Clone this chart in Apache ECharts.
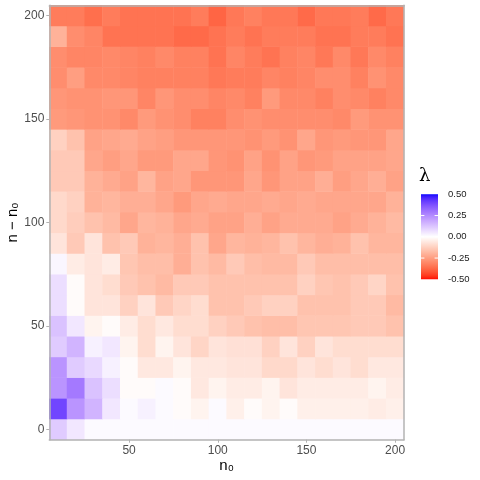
<!DOCTYPE html>
<html><head><meta charset="utf-8">
<script src="https://cdn.jsdelivr.net/npm/echarts@6/dist/echarts.min.js"></script>
<style>html,body{margin:0;padding:0;background:#fff}#c{width:480px;height:480px}</style>
</head><body><div id="c"></div>
<script>
// ---- data ----
const xCategories = [10,20,30,40,50,60,70,80,90,100,110,120,130,140,150,160,170,180,190,200];
const yCategories = [0,10,20,30,40,50,60,70,80,90,100,110,120,130,140,150,160,170,180,190,200];
const xTickLabels = [50,100,150,200];
const yTickLabels = [0,50,100,150,200];
const legendValues = [0.5,0.25,0,-0.25,-0.5];
const legendLabels = ['0.50','0.25','0.00','-0.25','-0.50'];

// lambda values, one array per row (n - n0), columns follow xCategories
const row0   = [0.11,0.05,0.01,0.01,0.01,0.01,0.01,0.01,0.01,0.01,0.01,0.01,0.01,0.01,0.01,0.01,0.01,0.01,0.01,0.01];
const row10  = [0.40,0.23,0.16,0.05,0.01,0.03,0.01,-0.01,-0.03,0.01,-0.04,-0.01,-0.03,-0.01,-0.04,-0.04,-0.04,-0.04,-0.05,-0.04];
const row20  = [0.23,0.29,0.13,0.07,-0.01,-0.01,0.01,-0.01,-0.06,-0.03,-0.05,-0.05,-0.03,-0.07,-0.05,-0.05,-0.05,-0.05,-0.03,-0.05];
const row30  = [0.23,0.11,0.08,0.03,-0.01,-0.06,-0.06,-0.03,-0.06,-0.06,-0.07,-0.07,-0.10,-0.10,-0.07,-0.09,-0.07,-0.09,-0.06,-0.06];
const row40  = [0.11,0.16,0.03,0.05,-0.03,-0.09,-0.03,-0.07,-0.11,-0.07,-0.08,-0.08,-0.12,-0.07,-0.12,-0.07,-0.09,-0.09,-0.09,-0.09];
const row50  = [0.13,0.05,-0.03,-0.01,-0.05,-0.09,-0.06,-0.09,-0.09,-0.12,-0.14,-0.16,-0.17,-0.17,-0.15,-0.15,-0.15,-0.14,-0.14,-0.16];
const row60  = [0.07,-0.01,-0.07,-0.07,-0.12,-0.07,-0.14,-0.11,-0.09,-0.16,-0.16,-0.14,-0.12,-0.12,-0.16,-0.16,-0.16,-0.14,-0.14,-0.18];
const row70  = [0.07,-0.01,-0.07,-0.09,-0.14,-0.16,-0.18,-0.14,-0.14,-0.16,-0.16,-0.16,-0.16,-0.16,-0.12,-0.15,-0.16,-0.14,-0.11,-0.16];
const row80  = [0.02,-0.05,-0.07,-0.05,-0.15,-0.17,-0.17,-0.21,-0.16,-0.18,-0.14,-0.17,-0.18,-0.18,-0.14,-0.17,-0.17,-0.17,-0.17,-0.17];
const row90  = [-0.07,-0.14,-0.07,-0.16,-0.14,-0.20,-0.19,-0.21,-0.16,-0.23,-0.19,-0.20,-0.19,-0.16,-0.19,-0.21,-0.20,-0.16,-0.19,-0.19];
const row100 = [-0.10,-0.13,-0.16,-0.18,-0.23,-0.19,-0.20,-0.23,-0.22,-0.24,-0.24,-0.21,-0.24,-0.22,-0.22,-0.22,-0.24,-0.22,-0.20,-0.18];
const row110 = [-0.10,-0.12,-0.20,-0.19,-0.21,-0.21,-0.23,-0.26,-0.23,-0.22,-0.23,-0.23,-0.22,-0.23,-0.22,-0.23,-0.23,-0.23,-0.23,-0.20];
const row120 = [-0.14,-0.14,-0.20,-0.22,-0.24,-0.19,-0.24,-0.23,-0.27,-0.27,-0.27,-0.23,-0.27,-0.24,-0.24,-0.21,-0.25,-0.23,-0.21,-0.24];
const row130 = [-0.14,-0.14,-0.23,-0.25,-0.23,-0.26,-0.26,-0.23,-0.23,-0.27,-0.28,-0.24,-0.28,-0.24,-0.27,-0.26,-0.24,-0.24,-0.24,-0.23];
const row140 = [-0.12,-0.16,-0.24,-0.23,-0.22,-0.24,-0.25,-0.27,-0.27,-0.27,-0.27,-0.28,-0.26,-0.28,-0.23,-0.27,-0.26,-0.27,-0.27,-0.23];
const row150 = [-0.26,-0.27,-0.28,-0.28,-0.30,-0.26,-0.28,-0.29,-0.32,-0.32,-0.29,-0.28,-0.29,-0.29,-0.29,-0.29,-0.30,-0.26,-0.28,-0.28];
const row160 = [-0.27,-0.28,-0.28,-0.27,-0.27,-0.31,-0.27,-0.29,-0.29,-0.31,-0.30,-0.32,-0.26,-0.30,-0.30,-0.32,-0.29,-0.30,-0.32,-0.30];
const row170 = [-0.29,-0.25,-0.30,-0.30,-0.31,-0.32,-0.32,-0.32,-0.32,-0.34,-0.33,-0.33,-0.31,-0.32,-0.31,-0.29,-0.29,-0.32,-0.28,-0.30];
const row180 = [-0.29,-0.31,-0.31,-0.30,-0.31,-0.32,-0.30,-0.32,-0.32,-0.35,-0.31,-0.33,-0.35,-0.32,-0.31,-0.34,-0.30,-0.34,-0.30,-0.32];
const row190 = [-0.20,-0.29,-0.31,-0.35,-0.35,-0.35,-0.35,-0.37,-0.37,-0.35,-0.33,-0.35,-0.33,-0.33,-0.33,-0.35,-0.35,-0.33,-0.33,-0.35];
const row200 = [-0.33,-0.33,-0.36,-0.33,-0.35,-0.35,-0.35,-0.35,-0.33,-0.38,-0.34,-0.32,-0.34,-0.34,-0.37,-0.34,-0.34,-0.33,-0.37,-0.34];

const rows = [row0,row10,row20,row30,row40,row50,row60,row70,row80,row90,row100,
              row110,row120,row130,row140,row150,row160,row170,row180,row190,row200];

// ---- colour scale: red - white - blue interpolated in CIELAB ----
function toLin(c){c/=255;return c<=0.04045?c/12.92:Math.pow((c+0.055)/1.055,2.4);}
function toSrgb(c){c=c<=0.0031308?12.92*c:1.055*Math.pow(c,1/2.4)-0.055;return Math.round(Math.max(0,Math.min(1,c))*255);}
function rgb2lab(rgb){
  const R=toLin(rgb[0]),G=toLin(rgb[1]),B=toLin(rgb[2]);
  const X=(0.4124564*R+0.3575761*G+0.1804375*B)/0.95047;
  const Y=(0.2126729*R+0.7151522*G+0.0721750*B);
  const Z=(0.0193339*R+0.1191920*G+0.9503041*B)/1.08883;
  const f=t=>t>0.008856?Math.cbrt(t):7.787*t+16/116;
  const fx=f(X),fy=f(Y),fz=f(Z);
  return [116*fy-16,500*(fx-fy),200*(fy-fz)];
}
function lab2hex(lab){
  const fy=(lab[0]+16)/116,fx=fy+lab[1]/500,fz=fy-lab[2]/200;
  const fi=t=>t*t*t>0.008856?t*t*t:(t-16/116)/7.787;
  const X=fi(fx)*0.95047,Y=fi(fy),Z=fi(fz)*1.08883;
  const R=3.2404542*X-1.5371385*Y-0.4985314*Z;
  const G=-0.9692660*X+1.8760108*Y+0.0415560*Z;
  const B=0.0556434*X-0.2040259*Y+1.0572252*Z;
  const h=v=>('0'+toSrgb(v).toString(16)).slice(-2);
  return '#'+h(R)+h(G)+h(B);
}
const labLow=rgb2lab([255,0,0]),labMid=rgb2lab([255,255,255]),labHigh=rgb2lab([0,0,255]);
function colorAt(v){ // v in [-0.5,0.5]
  let a,b,t;
  if(v<0){a=labMid;b=labLow;t=-v/0.5;}else{a=labMid;b=labHigh;t=v/0.5;}
  return lab2hex([a[0]+(b[0]-a[0])*t,a[1]+(b[1]-a[1])*t,a[2]+(b[2]-a[2])*t]);
}
const NSTOP=101;
const rampColors=[];
for(let i=0;i<NSTOP;i++){rampColors.push(colorAt(-0.5+i/(NSTOP-1)));}

// ---- build heatmap data ----
const heatData=[];
rows.forEach((r,yi)=>{r.forEach((v,xi)=>{heatData.push([xi,yi,v]);});});

const chart=echarts.init(document.getElementById('c'),null,{renderer:'canvas'});
const font="'Liberation Sans', Arial, 'DejaVu Sans', sans-serif";
const gridL=49.3,gridT=5.3,gridR=76,gridB=40.3;

// legend geometry
const barX=421,barY=194.3,barW=17,barH=85;
const gradStops=rampColors.map((c,i)=>({offset:1-i/(NSTOP-1),color:c}));
const legendGraphics=[
  {type:'text',left:419,top:167,style:{text:'λ',font:"18px 'DejaVu Serif', 'Liberation Serif', serif",fill:'#000'}},
  {type:'rect',shape:{x:barX,y:barY,width:barW,height:barH},style:{fill:new echarts.graphic.LinearGradient(0,0,0,1,gradStops)}}
];
legendValues.forEach((v,i)=>{
  const y=barY+(0.5-v)*barH;
  if(i>0&&i<legendValues.length-1){
    legendGraphics.push({type:'line',shape:{x1:barX,y1:y,x2:barX+3.4,y2:y},style:{stroke:'#fff',lineWidth:1}});
    legendGraphics.push({type:'line',shape:{x1:barX+barW-3.4,y1:y,x2:barX+barW,y2:y},style:{stroke:'#fff',lineWidth:1}});
  }
  legendGraphics.push({type:'text',x:448,y:y,style:{text:legendLabels[i],font:'9.5px '+font,fill:'#1a1a1a',verticalAlign:'middle'}});
});

const isXTick=(idx,val)=>xTickLabels.indexOf(Number(val))>=0;
const isYTick=(idx,val)=>yTickLabels.indexOf(Number(val))>=0;

chart.setOption({
  animation:false,
  backgroundColor:'#ffffff',
  grid:{left:gridL,top:gridT,right:gridR,bottom:gridB,containLabel:false,outerBoundsMode:'none'},
  xAxis:[{
    type:'category',data:xCategories.map(String),z:5,
    axisLine:{show:true,lineStyle:{color:'#B3B3B3',width:1.5}},
    axisTick:{show:true,alignWithLabel:true,interval:isXTick,length:3,lineStyle:{color:'#B3B3B3',width:1}},
    axisLabel:{interval:isXTick,color:'#4D4D4D',fontSize:12,fontFamily:font,margin:5},
    splitLine:{show:false},
    name:'n₀',nameLocation:'middle',nameGap:19,nameMoveOverlap:false,
    nameTextStyle:{color:'#000',fontSize:15,fontFamily:font,verticalAlign:'top'}
  },{
    type:'value',position:'top',min:0,max:1,z:5,
    axisLine:{show:true,lineStyle:{color:'#B3B3B3',width:1.5}},
    axisTick:{show:false},axisLabel:{show:false},splitLine:{show:false}
  }],
  yAxis:[{
    type:'category',data:yCategories.map(String),z:5,
    axisLine:{show:true,lineStyle:{color:'#B3B3B3',width:1.5}},
    axisTick:{show:true,alignWithLabel:true,interval:isYTick,length:3,lineStyle:{color:'#B3B3B3',width:1}},
    axisLabel:{interval:isYTick,color:'#4D4D4D',fontSize:12,fontFamily:font,margin:5},
    splitLine:{show:false},
    name:'n − n₀',nameLocation:'middle',nameGap:29,nameMoveOverlap:false,
    nameTextStyle:{color:'#000',fontSize:15,fontFamily:font}
  },{
    type:'value',position:'right',min:0,max:1,z:5,
    axisLine:{show:true,lineStyle:{color:'#B3B3B3',width:1.5}},
    axisTick:{show:false},axisLabel:{show:false},splitLine:{show:false}
  }],
  visualMap:{
    type:'continuous',show:false,min:-0.5,max:0.5,dimension:2,seriesIndex:0,
    inRange:{color:rampColors}
  },
  series:[{
    type:'heatmap',xAxisIndex:0,yAxisIndex:0,data:heatData,
    emphasis:{disabled:true},progressive:0
  }],
  graphic:legendGraphics
});
</script>
</body></html>
